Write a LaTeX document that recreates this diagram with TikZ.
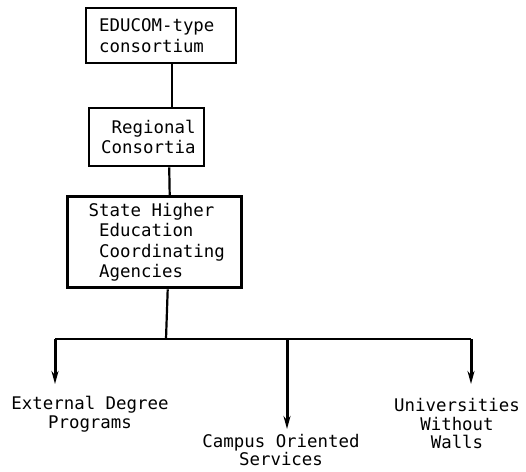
\documentclass[tikz,border=0pt]{standalone}
\usepackage{fontspec}
\setmonofont[WordSpace={1,0,0}]{DejaVu Sans Mono}
\usetikzlibrary{arrows.meta}

\tikzset{
  box/.style={draw, line width=2.4pt, rectangle, anchor=north west, align=left,
              font=\ttfamily\fontsize{17.4}{20.5}\selectfont},
  heavybox/.style={box, line width=3.4pt},
  lbl/.style={align=center, font=\ttfamily\fontsize{17.4}{18.5}\selectfont},
  conn/.style={line width=2.2pt},
  arr/.style={line width=3pt, -{Stealth[length=13pt,width=7pt]}}
}

\begin{document}
\begin{tikzpicture}[x=1pt,y=-1pt]
  \useasboundingbox (0,0) rectangle (526,471);

  % hierarchy of boxes
  \node[box, minimum width=150pt, minimum height=55pt, inner xsep=13pt, text width=124pt]
    (educom) at (85,7) {EDUCOM-type\\consortium};
  \node[box, minimum width=115pt, minimum height=58pt, inner xsep=12pt, text width=91pt]
    (regional) at (88,107) {\hphantom{x}Regional\\Consortia};
  \node[heavybox, minimum width=174pt, minimum height=91pt, inner xsep=21pt, text width=132pt]
    (state) at (66,195) {State\hphantom{x}Higher\\\hphantom{x}Education\\\hphantom{x}Coordinating\\\hphantom{x}Agencies};

  % branch points and arrow tips
  \coordinate (j)  at (166,339);
  \coordinate (jl) at (55,339);
  \coordinate (jm) at (287,339);
  \coordinate (jr) at (471,339);
  \coordinate (tl) at (55,384);
  \coordinate (tm) at (287,429);
  \coordinate (tr) at (471,384);

  % outcome labels
  \node[lbl] (external) at (90,414) {External\hphantom{x}Degree\\Programs};
  \node[lbl] (campus)   at (281,450) {Campus\hphantom{x}Oriented\\Services};
  \node[lbl] (uww)      at (457,424) {Universities\\Without\\Walls};

  % vertical links between boxes
  \draw[conn] ([xshift=11pt]educom.south) -- ([xshift=25.5pt]regional.north);
  \draw[conn] ([xshift=22.5pt]regional.south) -- ([xshift=15pt]state.north);
  \draw[conn] ([xshift=13pt]state.south) -- (j);

  % distribution bar and arrows
  \draw[conn] (jl) -- (jr);
  \draw[arr] (jl) -- (tl);
  \draw[arr] (jm) -- (tm);
  \draw[arr] (jr) -- (tr);
\end{tikzpicture}
\end{document}
